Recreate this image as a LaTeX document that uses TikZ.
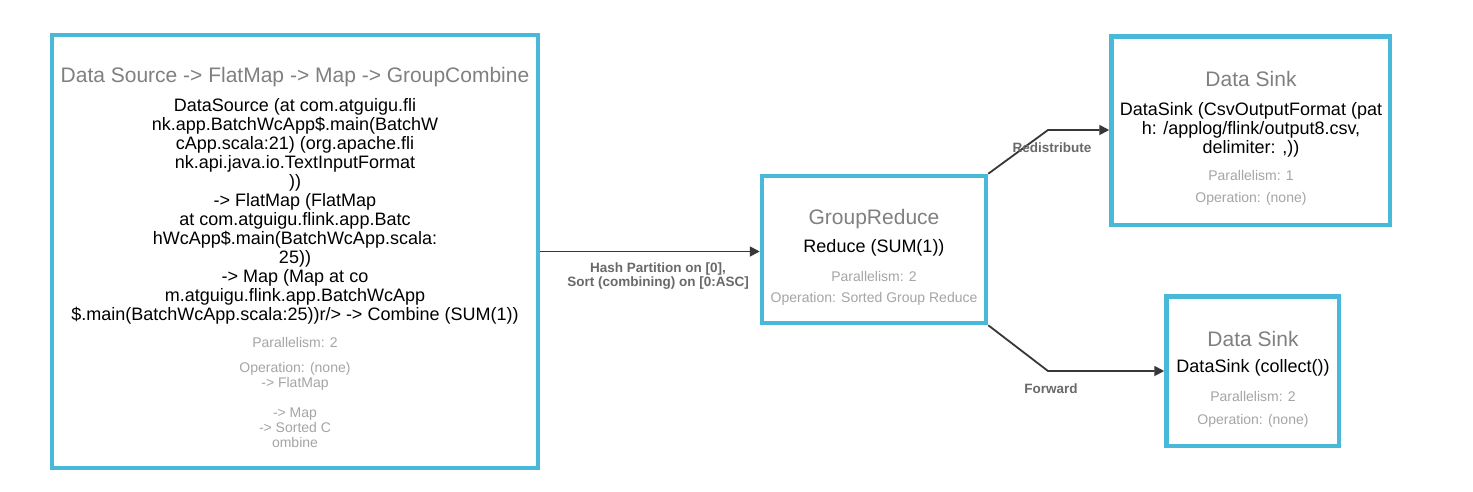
\documentclass[tikz,border=0pt]{standalone}
\usepackage{fontspec}
\setmainfont{Liberation Sans}
\usetikzlibrary{arrows.meta}
\definecolor{boxc}{RGB}{74,184,216}
\definecolor{titlec}{RGB}{128,128,128}
\definecolor{smallc}{RGB}{165,165,165}
\definecolor{edgec}{RGB}{55,55,55}
\definecolor{elabc}{RGB}{105,105,105}
\begin{document}
\begin{tikzpicture}[x=1pt,y=-1pt,
  opbox/.style={draw=boxc, line width=4.5pt, fill=white, inner sep=0pt},
  ttl/.style={font=\fontsize{21}{24}\selectfont, text=titlec, inner sep=0pt},
  body/.style={font=\fontsize{18}{19}\selectfont, text=black, align=center, inner sep=0pt},
  small/.style={font=\fontsize{14}{15}\selectfont, text=smallc, align=center, inner sep=0pt},
  conn/.style={draw=edgec, line width=1.8pt, -{Triangle[length=10pt,width=10pt]}},
  elab/.style={font=\fontsize{13.5}{14}\selectfont\bfseries, text=elabc, align=center, inner sep=0pt}]
\useasboundingbox[fill=white] (0,0) rectangle (1473,491);

% boxes
\node[opbox, minimum width=486pt, minimum height=433pt] (b1) at (295,251.5) {};
\node[opbox, minimum width=224pt, minimum height=147pt] (b2) at (874,249.5) {};
\node[opbox, minimum width=278.5pt, minimum height=188.5pt] (b3) at (1250.75,130.75) {};
\node[opbox, minimum width=172.5pt, minimum height=149.5pt] (b4) at (1252.75,371.25) {};

% box 1 texts
\node[ttl] (t1) at (295,77) {Data Source -> FlatMap -> Map -> GroupCombine};
\node[body] (d1) at (295,211) {DataSource (at com.atguigu.fli\\
nk.app.BatchWcApp\$.main(BatchW\\
cApp.scala:21) (org.apache.fli\\
nk.api.java.io.TextInputFormat\\
))\\
-> FlatMap (FlatMap\\
at com.atguigu.flink.app.Batc\\
hWcApp\$.main(BatchWcApp.scala:\\
25))\\
-> Map (Map at co\\
m.atguigu.flink.app.BatchWcApp\\
\$.main(BatchWcApp.scala:25))r/> -> Combine (SUM(1))};
\node[small] (p1) at (295,342) {Parallelism: 2};
\node[small] (o1) at (295,405) {Operation: (none)\\-> FlatMap\\[15pt]-> Map\\-> Sorted C\\ombine};

% box 2 texts
\node[ttl] (t2) at (874,219) {GroupReduce};
\node[body] (d2) at (874,248) {Reduce (SUM(1))};
\node[small] (p2) at (874,276) {Parallelism: 2};
\node[small] (o2) at (874,299) {Operation: Sorted Group Reduce};

% box 3 texts
\node[ttl] (t3) at (1251,79) {Data Sink};
\node[body] (d3) at (1251,130) {DataSink (CsvOutputFormat (pat\\
h: /applog/flink/output8.csv,\\
delimiter: ,))};
\node[small] (p3) at (1251,175) {Parallelism: 1};
\node[small] (o3) at (1251,199) {Operation: (none)};

% box 4 texts
\node[ttl] (t4) at (1253,339) {Data Sink};
\node[body] (d4) at (1253,368) {DataSink (collect())};
\node[small] (p4) at (1253,396) {Parallelism: 2};
\node[small] (o4) at (1253,421) {Operation: (none)};

% connectors
\coordinate (k1) at (1048,130);
\coordinate (k2) at (1048,371);
\draw[conn] (b1.east) -- (b1.east -| b2.west);
\draw[conn] (b2.north east) -- (k1) -- (k1 -| b3.west);
\draw[conn] (b2.south east) -- (k2) -- (k2 -| b4.west);

% connector labels
\node[elab] (e1) at (658,276) {Hash Partition on [0],\\Sort (combining) on [0:ASC]};
\node[elab] (e2) at (1052,148) {Redistribute};
\node[elab] (e3) at (1051,389) {Forward};
\end{tikzpicture}
\end{document}
